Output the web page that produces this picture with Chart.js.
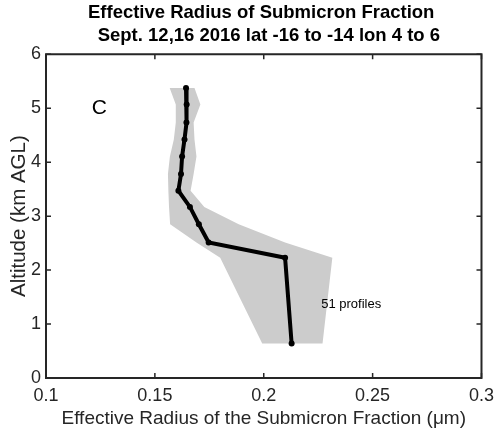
<!DOCTYPE html>
<html><head><meta charset="utf-8">
<script src="https://cdn.jsdelivr.net/npm/chart.js@4"></script>
<style>html,body{margin:0;padding:0;background:#fff}#wrap{width:501px;height:434px}</style>
</head><body><div id="wrap"><canvas id="c" width="501" height="434"></canvas></div>
<script>
// Altitude bins (km AGL)
const altitude = [5.376, 5.07, 4.735, 4.42, 4.105, 3.78, 3.47, 3.17, 2.85, 2.51, 2.23, 0.64];
// Mean effective radius (µm)
const radius = [0.1643, 0.1646, 0.1645, 0.1636, 0.1625, 0.1620, 0.1608, 0.1661, 0.1702, 0.1747, 0.2098, 0.2128];
// Shaded envelope bounds (µm)
const lowerBound = [0.1568, 0.1596, 0.1596, 0.1587, 0.1569, 0.1560, 0.1562, 0.1565, 0.1570, 0.1691, 0.1800, 0.1993];
const upperBound = [0.1682, 0.1709, 0.1678, 0.1682, 0.1691, 0.1678, 0.1664, 0.1727, 0.1885, 0.2098, 0.2315, 0.2270];
const xTicks = [0.1, 0.15, 0.2, 0.25, 0.3];
const yTicks = [0, 1, 2, 3, 4, 5, 6];
const titleLines = ['Effective Radius of Submicron Fraction ', '  Sept. 12,16 2016 lat -16 to -14 lon 4 to 6'];
const panelLabel = 'C';
const profileNote = '51 profiles';

const linePts = radius.map((r, i) => ({x: r, y: altitude[i]}));
const shadePts = lowerBound.map((r, i) => ({x: r, y: altitude[i]}))
  .concat(upperBound.map((r, i) => ({x: r, y: altitude[i]})).reverse());
shadePts.push(shadePts[0]);

const FONT = '"Liberation Sans", Arial, Helvetica, sans-serif';
const AX = '#262626';

const frame = {
  id: 'frame',
  afterDatasetsDraw(chart) {
    const {ctx, chartArea: a, scales: {x, y}} = chart;
    ctx.save();
    ctx.strokeStyle = AX;
    ctx.lineWidth = 1.5;
    const tl = 5;
    ctx.beginPath();
    xTicks.forEach(v => {
      const px = x.getPixelForValue(v);
      ctx.moveTo(px, a.bottom); ctx.lineTo(px, a.bottom - tl);
      ctx.moveTo(px, a.top); ctx.lineTo(px, a.top + tl);
    });
    yTicks.forEach(v => {
      const py = y.getPixelForValue(v);
      ctx.moveTo(a.left, py); ctx.lineTo(a.left + tl, py);
      ctx.moveTo(a.right, py); ctx.lineTo(a.right - tl, py);
    });
    ctx.stroke();
    ctx.lineWidth = 2;
    ctx.strokeRect(a.left, a.top, a.right - a.left, a.bottom - a.top);
    ctx.fillStyle = '#000';
    ctx.textAlign = 'left';
    ctx.textBaseline = 'middle';
    ctx.font = '21px ' + FONT;
    ctx.fillText(panelLabel, x.getPixelForValue(0.121), y.getPixelForValue(5.0));
    ctx.font = '13px ' + FONT;
    ctx.fillText(profileNote, x.getPixelForValue(0.2264), y.getPixelForValue(1.37));
    ctx.restore();
  }
};

new Chart(document.getElementById('c'), {
  type: 'scatter',
  data: {
    datasets: [
      {
        data: linePts, showLine: true, borderColor: '#000', backgroundColor: '#000',
        borderWidth: 4, pointRadius: 3, pointBorderWidth: 0, fill: false
      },
      {
        data: shadePts, showLine: true, borderWidth: 0, borderColor: 'rgba(0,0,0,0)',
        backgroundColor: '#cccccc', pointRadius: 0, fill: 'shape'
      }
    ]
  },
  options: {
    responsive: false, animation: false, devicePixelRatio: 1,
    layout: {padding: {left: 0, right: 12, top: 0, bottom: 0}},
    plugins: {
      legend: {display: false}, tooltip: {enabled: false},
      title: {
        display: true, text: titleLines, color: '#000', fullSize: false,
        font: {family: FONT, size: 18.5, weight: 'bold', lineHeight: 1.25},
        padding: {top: 1, bottom: 7}
      }
    },
    scales: {
      x: {
        type: 'linear', min: 0.1, max: 0.3,
        afterBuildTicks: s => { s.ticks = xTicks.map(v => ({value: v})); },
        afterFit: s => { s.height = 56; },
        grid: {display: false, drawTicks: false}, border: {display: false},
        ticks: {color: AX, padding: 7, maxRotation: 0, font: {family: FONT, size: 18},
          callback: v => String(+v.toFixed(2))},
        title: {display: true, text: 'Effective Radius of the Submicron Fraction (μm)', color: AX,
          font: {family: FONT, size: 19}, padding: {top: 0, bottom: 4}}
      },
      y: {
        type: 'linear', min: 0, max: 6,
        afterBuildTicks: s => { s.ticks = yTicks.map(v => ({value: v})); },
        afterFit: s => { s.width = 46; },
        grid: {display: false, drawTicks: false}, border: {display: false},
        ticks: {color: AX, padding: 5, font: {family: FONT, size: 18}, callback: v => String(v)},
        title: {display: true, text: 'Altitude (km AGL)', color: AX,
          font: {family: FONT, size: 20.5}, padding: {top: 7, bottom: 0}}
      }
    }
  },
  plugins: [frame]
});
</script></body></html>
